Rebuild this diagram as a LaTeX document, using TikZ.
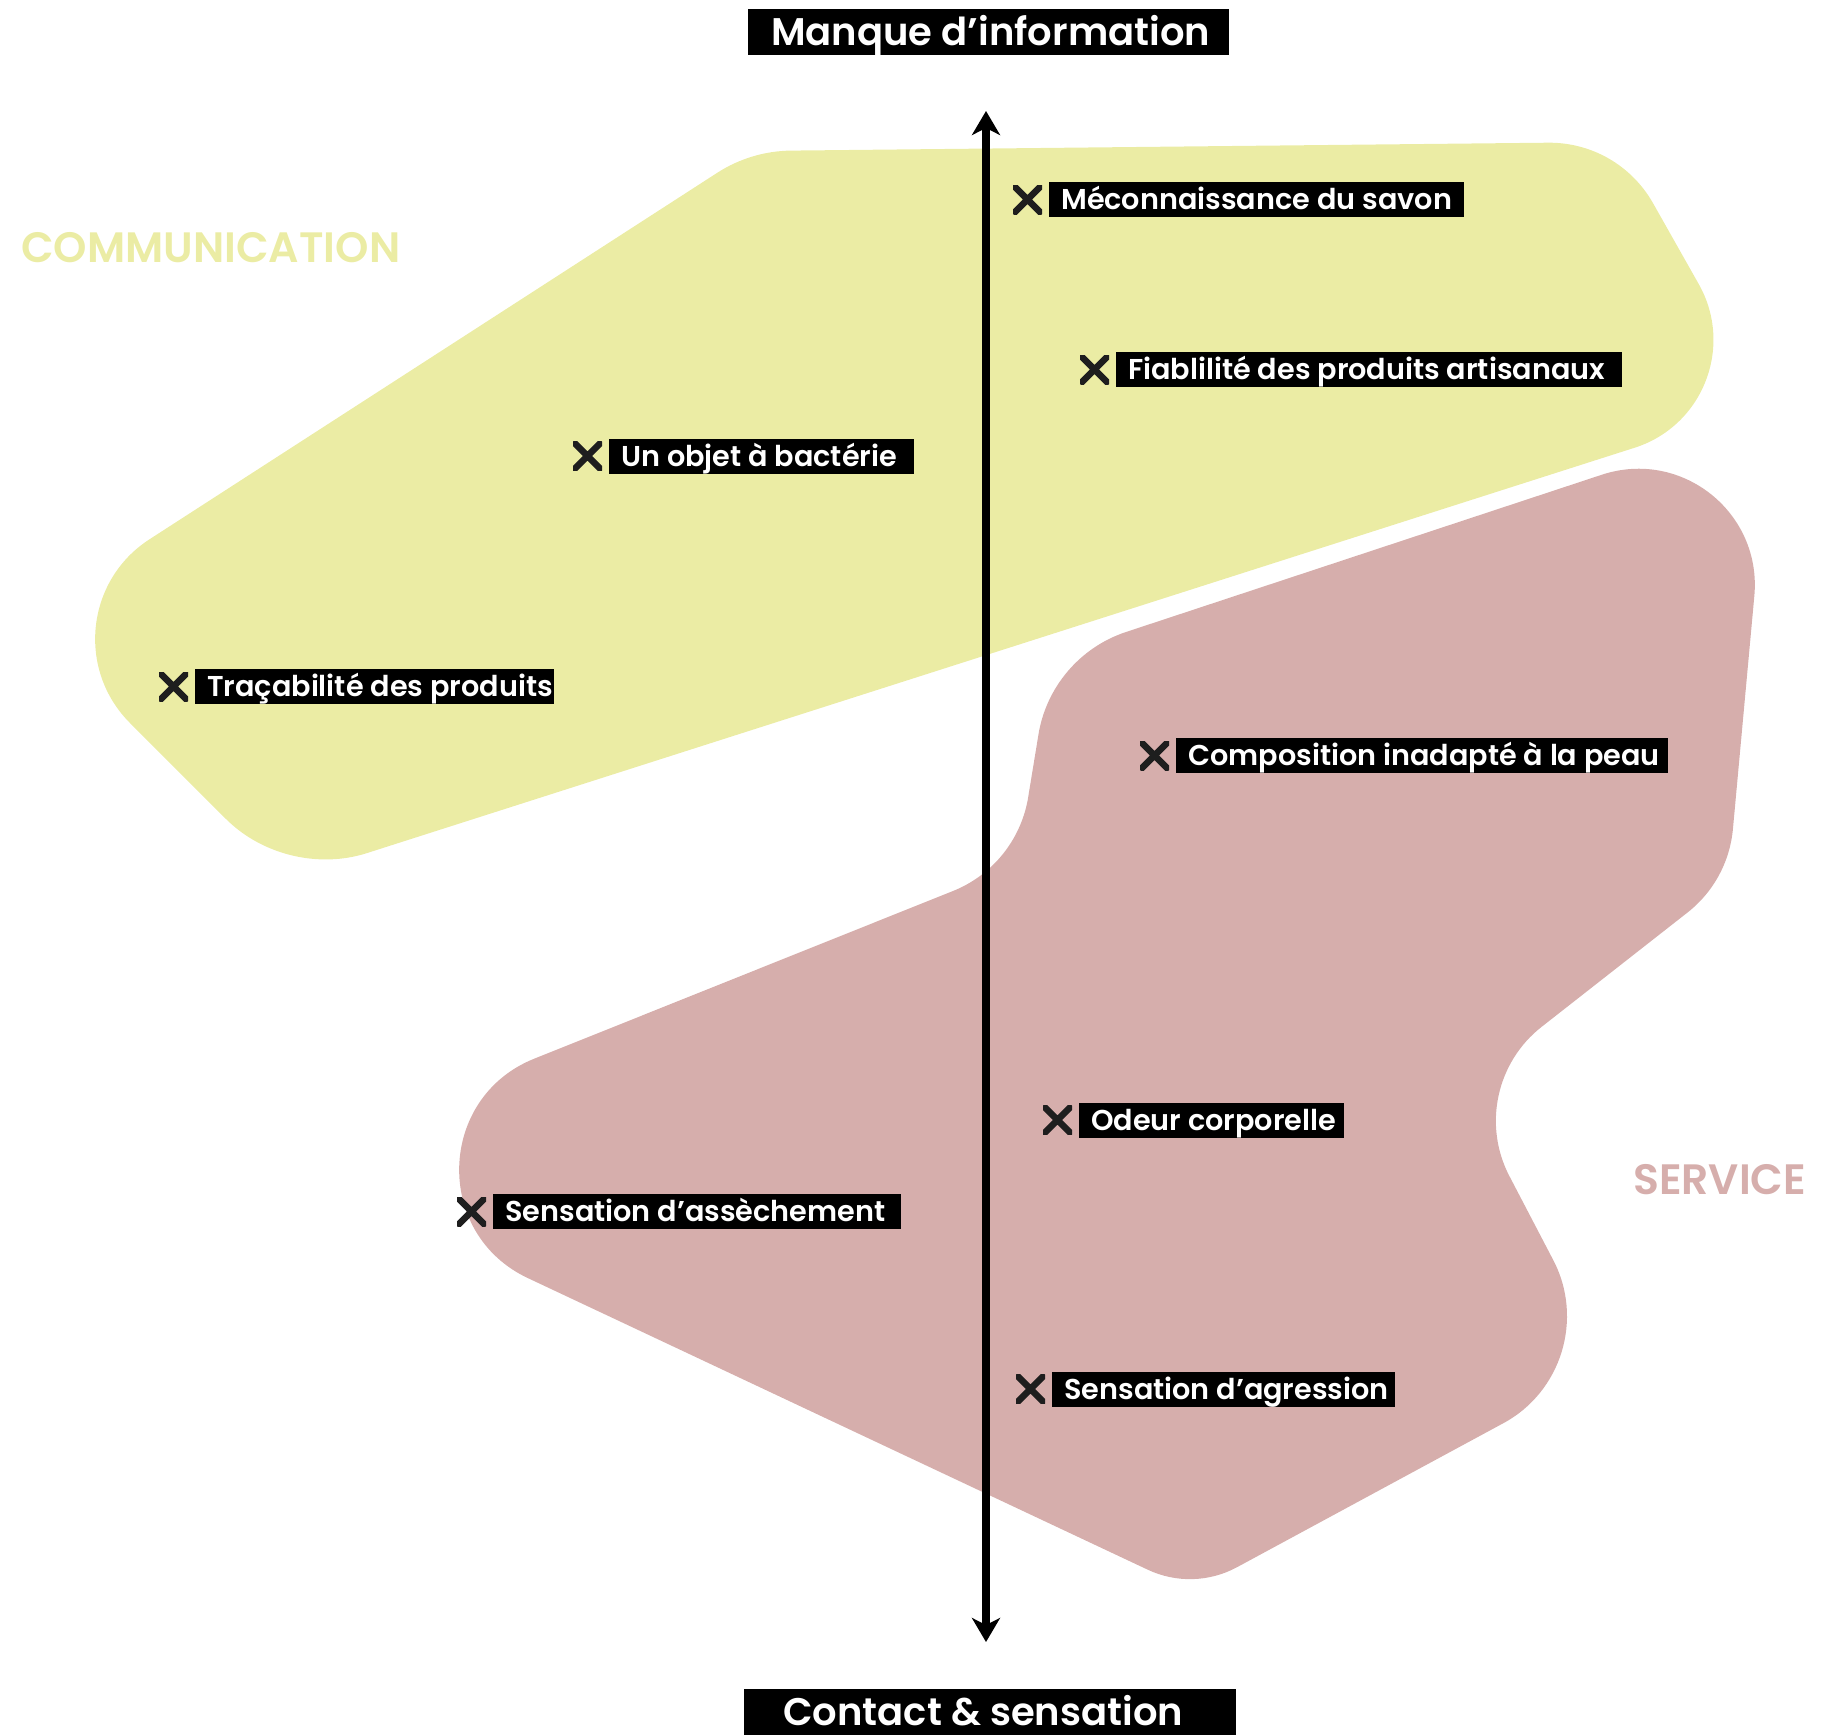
\documentclass[tikz,border=0pt]{standalone}
\usepackage{fontspec}
\setmainfont{Poppins SemiBold}
\usetikzlibrary{arrows.meta,calc}
\definecolor{ylw}{HTML}{EBECA4}
\definecolor{pnk}{HTML}{D6AEAC}
\definecolor{xmk}{HTML}{1E1E1E}
\newcommand\lbx[2]{\makebox[#1pt][l]{#2}}
\tikzset{
  lbl/.style={fill=black, text=white, anchor=west, inner xsep=12pt, inner ysep=0pt,
    minimum height=35pt, text height=20pt, text depth=0pt,
    font=\fontsize{28.7}{30}\selectfont},
  ttl/.style={fill=black, text=white, anchor=west, inner ysep=0pt,
    minimum height=46pt, text height=26pt, text depth=0pt,
    font=\fontsize{38.5}{42}\selectfont},
  cat/.style={anchor=base west, inner sep=0pt, font=\fontsize{42.5}{46}\selectfont},
  xm/.style={minimum size=29pt, inner sep=0pt, path picture={
    \draw[xmk, line width=6.5pt]
      (path picture bounding box.south west) -- (path picture bounding box.north east)
      (path picture bounding box.north west) -- (path picture bounding box.south east);}},
  axisline/.style={line width=8pt,
    {Stealth[length=24pt,width=28pt,inset=7pt]}-{Stealth[length=24pt,width=28pt,inset=7pt]}},
}
\begin{document}
\begin{tikzpicture}[x=1pt,y=-1pt]
\useasboundingbox (0,0) rectangle (1821,1735);

% ---------- yellow zone ----------
\coordinate (yv1) at (751,151);
\coordinate (y1a) at (717.4,172.7);
\coordinate (y1b) at (791,150.6);
\coordinate (yv2) at (1618,142);
\coordinate (y2a) at (1548,142.7);
\coordinate (y2b) at (1652.8,202.8);
\coordinate (yv3) at (1768,405);
\coordinate (y3a) at (1698.4,283.5);
\coordinate (y3b) at (1634.7,447.7);
\coordinate (yv4) at (286,879);
\coordinate (y4a) at (366.9,853.1);
\coordinate (y4b) at (225.9,818.9);
\coordinate (yv5) at (26,619);
\coordinate (y5a) at (130,723);
\coordinate (y5b) at (149.5,539.3);
\fill[ylw] (y1a)
  .. controls ($(y1a)!.65!(yv1)$) and ($(y1b)!.65!(yv1)$) .. (y1b)
  -- (y2a)
  .. controls ($(y2a)!.62!(yv2)$) and ($(y2b)!.62!(yv2)$) .. (y2b)
  -- (y3a)
  .. controls ($(y3a)!.515!(yv3)$) and ($(y3b)!.515!(yv3)$) .. (y3b)
  -- (y4a)
  .. controls ($(y4a)!.6!(yv4)$) and ($(y4b)!.6!(yv4)$) .. (y4b)
  -- (y5a)
  .. controls ($(y5a)!.515!(yv5)$) and ($(y5b)!.515!(yv5)$) .. (y5b)
  -- cycle;

% ---------- pink zone ----------
\coordinate (pv1) at (1771,419);
\coordinate (p1a) at (1601.9,474.7);
\coordinate (p1b) at (1754.3,596.2);
\coordinate (pv2) at (1728,881);
\coordinate (p2a) at (1732.9,829.2);
\coordinate (p2b) at (1687,912.9);
\coordinate (pv3) at (1463,1088);
\coordinate (p3a) at (1541.9,1026.6);
\coordinate (p3b) at (1509.6,1176.5);
\coordinate (pv4) at (1609,1366);
\coordinate (p4a) at (1553.1,1259.8);
\coordinate (p4b) at (1503.5,1423.1);
\coordinate (pv5) at (1193,1591);
\coordinate (p5a) at (1237,1567.2);
\coordinate (p5b) at (1147.8,1569.7);
\coordinate (pv6) at (279,1161);
\coordinate (p6a) at (527.9,1278.1);
\coordinate (p6b) at (534.2,1058.7);
\coordinate (pv7) at (1018,865);
\coordinate (p7a) at (953,891);
\coordinate (p7b) at (1028.4,795.8);
\coordinate (pv8) at (1050,657);
\coordinate (p8a) at (1038.2,736.1);
\coordinate (p8b) at (1126,632);
\fill[pnk] (p8b)
  -- (p1a)
  .. controls ($(p1a)!.472!(pv1)$) and ($(p1b)!.472!(pv1)$) .. (p1b)
  -- (p2a)
  .. controls ($(p2a)!.64!(pv2)$) and ($(p2b)!.64!(pv2)$) .. (p2b)
  -- (p3a)
  .. controls ($(p3a)!.578!(pv3)$) and ($(p3b)!.578!(pv3)$) .. (p3b)
  -- (p4a)
  .. controls ($(p4a)!.552!(pv4)$) and ($(p4b)!.552!(pv4)$) .. (p4b)
  -- (p5a)
  .. controls ($(p5a)!.629!(pv5)$) and ($(p5b)!.629!(pv5)$) .. (p5b)
  -- (p6a)
  .. controls ($(p6a)!.38!(pv6)$) and ($(p6b)!.38!(pv6)$) .. (p6b)
  -- (p7a)
  .. controls ($(p7a)!.619!(pv7)$) and ($(p7b)!.619!(pv7)$) .. (p7b)
  -- (p8a)
  .. controls ($(p8a)!.61!(pv8)$) and ($(p8b)!.61!(pv8)$) .. (p8b)
  -- cycle;

% ---------- category names ----------
\node[cat, text=ylw] (comm) at (21,262) {COMMUNICATION};
\node[cat, text=pnk] (serv) at (1633,1194) {SERVICE};

% ---------- axis ----------
\node[ttl, inner xsep=23pt] (top) at (748,32) {\lbx{435}{Manque d’information}};
\node[ttl, inner xsep=39pt] (bot) at (744,1712) {\lbx{414}{Contact \& sensation}};
\coordinate (tipT) at (986,111);
\coordinate (tipB) at (986,1642);
\draw[axisline] (tipT) -- (tipB);

% ---------- items ----------
\node[lbl] (l1) at (1049,199.5) {\lbx{391}{Méconnaissance du savon}};
\node[xm] (x1) at (1027.5,199.5) {};
\node[lbl] (l2) at (1116,369.5) {\lbx{482}{Fiablilité des produits artisanaux}};
\node[xm] (x2) at (1094.5,369.5) {};
\node[lbl] (l3) at (609,456) {\lbx{281}{Un objet à bactérie}};
\node[xm] (x3) at (587.5,456) {};
\node[lbl] (l4) at (195,686.5) {\lbx{335}{Traçabilité des produits}};
\node[xm] (x4) at (173.5,686.5) {};
\node[lbl] (l5) at (1176,755.5) {\lbx{468}{Composition inadapté à la peau}};
\node[xm] (x5) at (1154.5,755.5) {};
\node[lbl] (l6) at (1079,1120) {\lbx{241}{Odeur corporelle}};
\node[xm] (x6) at (1057.5,1120) {};
\node[lbl] (l7) at (493,1211.5) {\lbx{384}{Sensation d’assèchement}};
\node[xm] (x7) at (471.5,1211.5) {};
\node[lbl] (l8) at (1052,1389) {\lbx{319}{Sensation d’agression}};
\node[xm] (x8) at (1030.5,1389) {};
\end{tikzpicture}
\end{document}
